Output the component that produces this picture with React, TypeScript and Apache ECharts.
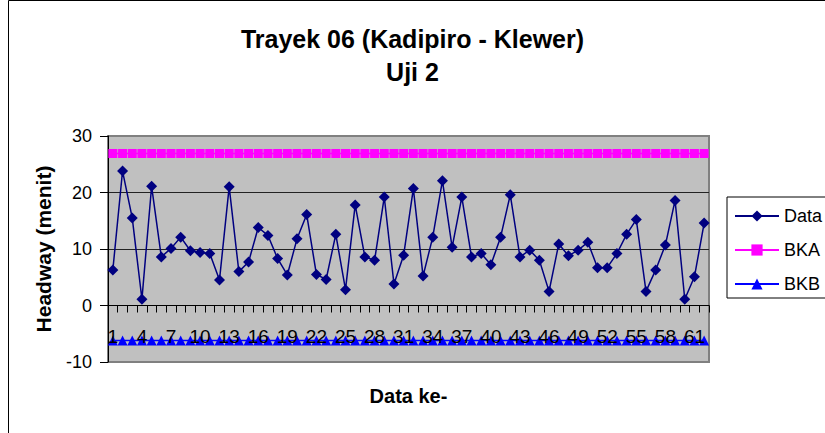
import React, { useEffect, useRef } from "react";
import * as echarts from "echarts";

const categories: string[] = Array.from({ length: 62 }, (_, i) => String(i + 1));
const dataValues: number[] = [
  6.3, 23.8, 15.5, 1.1, 21.1, 8.6, 10.1, 12.1, 9.7, 9.4,
  9.2, 4.5, 21.0, 6.0, 7.7, 13.8, 12.4, 8.3, 5.4, 11.8,
  16.1, 5.5, 4.6, 12.6, 2.8, 17.8, 8.6, 8.0, 19.2, 3.8,
  8.9, 20.7, 5.2, 12.1, 22.1, 10.3, 19.2, 8.6, 9.2, 7.2,
  12.1, 19.6, 8.6, 9.8, 8.0, 2.5, 10.9, 8.8, 9.8, 11.2,
  6.7, 6.7, 9.2, 12.6, 15.2, 2.5, 6.3, 10.7, 18.6, 1.1,
  5.1, 14.6,
];
const bkaValue = 26.9;
const bkbValue = -6.2;
const bkaValues: number[] = categories.map(() => bkaValue);
const bkbValues: number[] = categories.map(() => bkbValue);
const yTicks = { min: -10, max: 30, interval: 10 };

const FONT = "'Liberation Sans', Arial, sans-serif";
const GRID_TOP = 136;
const GRID_HEIGHT = 226;
// place the category axis on the zero line, as in the original spreadsheet chart
const zeroOffset = -GRID_HEIGHT * ((0 - yTicks.min) / (yTicks.max - yTicks.min));

export default function App() {
  const ref = useRef<HTMLDivElement>(null);
  useEffect(() => {
    if (!ref.current) return;
    const chart = echarts.init(ref.current, undefined, { renderer: "svg" });
    chart.setOption({
      animation: false,
      backgroundColor: "#ffffff",
      textStyle: { fontFamily: FONT },
      title: {
        text: "Trayek 06 (Kadipiro - Klewer)\nUji 2",
        left: "center",
        top: 17,
        textStyle: {
          fontFamily: FONT,
          fontSize: 25,
          fontWeight: "bold",
          color: "#000",
          lineHeight: 33,
        },
      },
      graphic: [
        {
          type: "rect",
          shape: { x: 8.5, y: 0.5, width: 900, height: 500 },
          style: { fill: "none", stroke: "#000", lineWidth: 1 },
          silent: true,
          z: 0,
        },
      ],
      legend: {
        orient: "vertical",
        left: 727,
        top: 197,
        padding: [10, 60, 5, 7],
        itemWidth: 44,
        itemHeight: 14,
        itemGap: 16,
        borderColor: "#000",
        borderWidth: 1,
        textStyle: { fontFamily: FONT, fontSize: 18, color: "#000" },
        data: ["Data", "BKA", "BKB"],
      },
      grid: {
        left: 108,
        top: GRID_TOP,
        width: 601,
        height: GRID_HEIGHT,
        outerBoundsMode: "none",
        containLabel: false,
        show: true,
        backgroundColor: "#c0c0c0",
        borderColor: "#808080",
        borderWidth: 2,
      },
      xAxis: {
        type: "category",
        data: categories,
        boundaryGap: true,
        offset: zeroOffset,
        z: 10,
        name: "Data ke-",
        nameLocation: "middle",
        nameGap: 80,
        nameTextStyle: { fontFamily: FONT, fontSize: 20, fontWeight: "bold", color: "#000" },
        axisLine: { onZero: false, lineStyle: { color: "#000", width: 1 } },
        axisTick: { show: true, interval: 0, length: 7, lineStyle: { color: "#000" } },
        axisLabel: {
          interval: 2,
          margin: 21,
          fontFamily: FONT,
          fontSize: 19,
          color: "#000",
        },
        splitLine: { show: false },
      },
      yAxis: {
        type: "value",
        min: yTicks.min,
        max: yTicks.max,
        interval: yTicks.interval,
        name: "Headway (menit)",
        nameLocation: "middle",
        nameRotate: 90,
        nameGap: 54,
        nameTextStyle: { fontFamily: FONT, fontSize: 21, fontWeight: "bold", color: "#000" },
        axisLine: { show: true, lineStyle: { color: "#000", width: 1 } },
        axisTick: { show: true, length: 8, lineStyle: { color: "#000" } },
        axisLabel: { margin: 16, fontFamily: FONT, fontSize: 18, color: "#000" },
        splitLine: {
          show: true,
          lineStyle: { color: ["#808080", "#000", "#222", "#222", "#808080"], width: 1 },
        },
      },
      series: [
        {
          name: "BKA",
          type: "line",
          data: bkaValues,
          symbol: "rect",
          symbolSize: 9,
          showAllSymbol: true,
          itemStyle: { color: "#ff00ff" },
          lineStyle: { color: "#ff00ff", width: 1.5 },
          z: 2,
        },
        {
          name: "BKB",
          type: "line",
          data: bkbValues,
          symbol: "triangle",
          symbolSize: 10,
          showAllSymbol: true,
          itemStyle: { color: "#0000ff" },
          lineStyle: { color: "#0000ff", width: 1.5 },
          z: 2,
        },
        {
          name: "Data",
          type: "line",
          data: dataValues,
          symbol: "diamond",
          symbolSize: 11,
          showAllSymbol: true,
          itemStyle: { color: "#000080" },
          lineStyle: { color: "#000080", width: 1.5 },
          z: 3,
        },
      ],
    });
    return () => chart.dispose();
  }, []);
  return (
    <div
      ref={ref}
      style={{ position: "absolute", left: 0, top: 0, width: 825, height: 433 }}
    />
  );
}
